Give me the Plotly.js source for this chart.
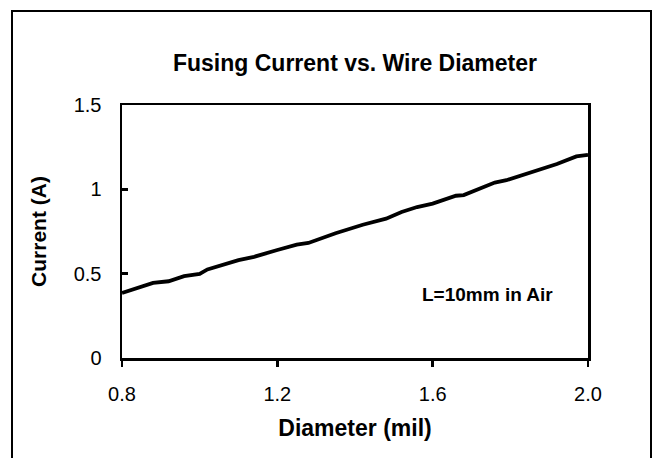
<!DOCTYPE html>
<html>
<head>
<meta charset="utf-8">
<script src="https://cdn.plot.ly/plotly-3.0.1.min.js"></script>
<style>
html,body{margin:0;padding:0;background:#fff;}
#chart{width:655px;height:458px;}
</style>
</head>
<body>
<div id="chart"></div>
<script>
// Data
var diameterMil = [0.80, 0.85, 0.88, 0.92, 0.96, 1.00, 1.02, 1.10, 1.14, 1.20, 1.25, 1.28, 1.35, 1.42, 1.48, 1.52, 1.56, 1.60, 1.66, 1.68, 1.76, 1.79, 1.87, 1.92, 1.97, 2.00];
var currentA    = [0.385, 0.420, 0.445, 0.455, 0.485, 0.498, 0.525, 0.580, 0.600, 0.640, 0.672, 0.682, 0.740, 0.790, 0.826, 0.866, 0.895, 0.915, 0.962, 0.966, 1.040, 1.054, 1.115, 1.150, 1.195, 1.205];
var xTickVals = [0.8, 1.2, 1.6, 2.0];
var xTickText = ["0.8", "1.2", "1.6", "2.0"];
var yTickVals = [0, 0.5, 1, 1.5];
var yTickText = ["0", "0.5", "1", "1.5"];
var titleText = "Fusing Current vs. Wire Diameter";
var xTitle = "Diameter (mil)";
var yTitle = "Current (A)";
var noteText = "L=10mm in Air";

var FONT = "Liberation Sans, Arial, sans-serif";

var trace = {
  x: diameterMil,
  y: currentA,
  type: "scatter",
  mode: "lines",
  line: {color: "#000", width: 3.8},
  hoverinfo: "none"
};

var layout = {
  width: 655,
  height: 458,
  margin: {l: 122, r: 67, t: 105, b: 100},
  paper_bgcolor: "#fff",
  plot_bgcolor: "#fff",
  showlegend: false,
  title: {
    text: "<b>" + titleText + "</b>",
    font: {family: FONT, size: 23, color: "#000"},
    xref: "paper", x: 0.5, xanchor: "center",
    yref: "container", y: 1 - 63/458, yanchor: "middle"
  },
  xaxis: {
    range: [0.8, 2.0],
    tickvals: xTickVals,
    ticktext: xTickText,
    ticks: "outside",
    ticklen: 6,
    tickwidth: 2.5,
    tickcolor: "#000",
    showline: true,
    linecolor: "#000",
    linewidth: 2.5,
    mirror: true,
    showgrid: false,
    zeroline: false,
    ticklabelstandoff: 10,
    tickfont: {family: FONT, size: 20, color: "#000"},
    title: {text: "<b>" + xTitle + "</b>", font: {family: FONT, size: 23, color: "#000"}, standoff: 17},
    fixedrange: true
  },
  yaxis: {
    range: [0, 1.5],
    tickvals: yTickVals,
    ticktext: yTickText,
    ticks: "inside",
    ticklen: 6,
    tickwidth: 2.5,
    tickcolor: "#000",
    showline: true,
    linecolor: "#000",
    linewidth: 2.5,
    mirror: true,
    showgrid: false,
    zeroline: false,
    ticklabelstandoff: 14,
    tickfont: {family: FONT, size: 20, color: "#000"},
    title: {text: "<b>" + yTitle + "</b>", font: {family: FONT, size: 21, color: "#000"}, standoff: 22},
    fixedrange: true
  },
  annotations: [{
    text: "<b>" + noteText + "</b>",
    xref: "paper", yref: "paper",
    x: (487 - 122) / 466, y: (357.7 - 294) / 252,
    xanchor: "center", yanchor: "middle",
    showarrow: false,
    font: {family: FONT, size: 19, color: "#000"}
  }],
  shapes: [{
    type: "rect",
    xref: "paper", yref: "paper",
    x0: (12 - 122) / 466, x1: (651 - 122) / 466,
    y0: (357.7 - 470) / 252, y1: (357.7 - 12) / 252,
    line: {color: "#000", width: 2},
    fillcolor: "rgba(0,0,0,0)",
    layer: "above"
  }]
};

Plotly.newPlot("chart", [trace], layout, {displayModeBar: false, staticPlot: true});
</script>
</body>
</html>
